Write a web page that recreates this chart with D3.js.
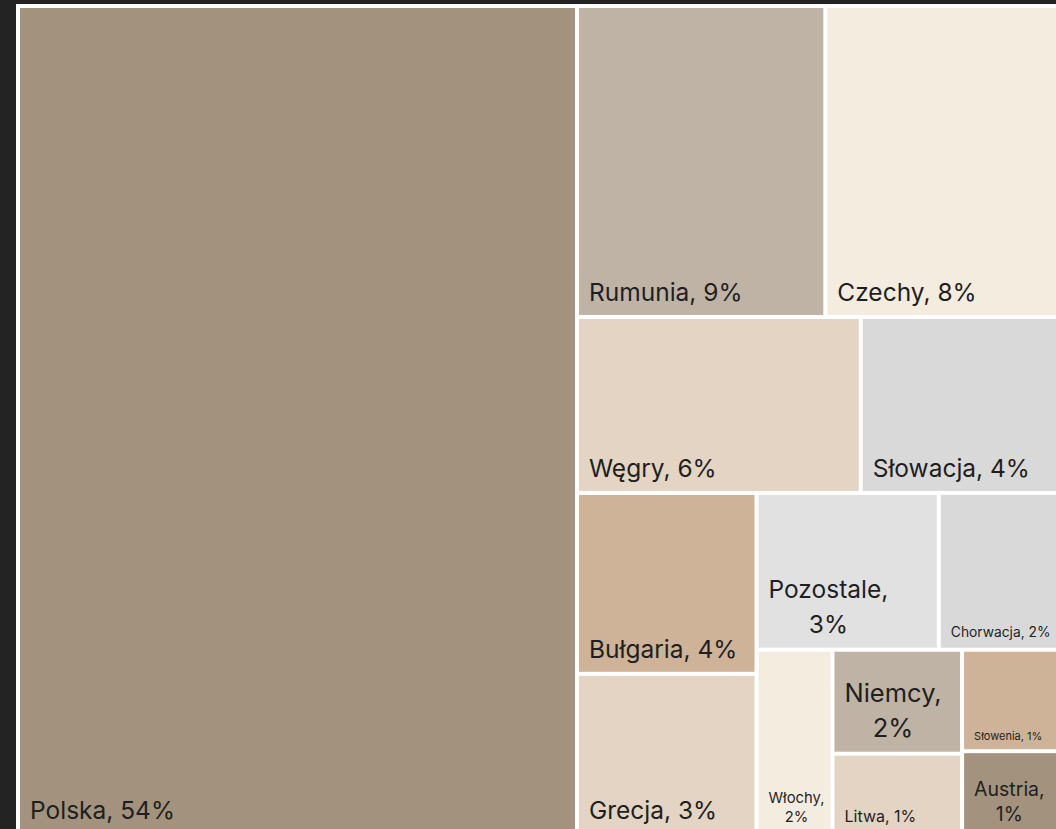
<!DOCTYPE html>
<html><head><meta charset="utf-8">
<script src="https://cdn.jsdelivr.net/npm/d3@7"></script>
<style>html,body{margin:0;padding:0;background:#232323;overflow:hidden} svg{display:block}</style>
</head><body><svg id="chart" width="1056" height="829"></svg>
<script>
// ---- data ----
const countries = ["Polska","Rumunia","Czechy","Węgry","Słowacja","Bułgaria","Grecja","Pozostale","Chorwacja","Włochy","Niemcy","Litwa","Słowenia","Austria"];
const shares    = [53.65, 8.94, 8.45, 5.78, 4.06, 3.76, 3.35, 3.31, 2.20, 1.63, 1.56, 1.22, 1.15, 0.95];
// nesting of the tiles (alternating columns / rows)
const groups = ["Polska", [["Rumunia","Czechy"],["Węgry","Słowacja"],[["Bułgaria","Grecja"],[["Pozostale","Chorwacja"],["Włochy",["Niemcy","Litwa"],["Słowenia","Austria"]]]]]];

// ---- styles ----
const palette = ["#a3937e","#bfb3a5","#f5ece0","#e3d4c4","#d9d9d9","#ceb399","#e3d4c4","#e1e1e1","#d9d9d9","#f5ece0","#bfb3a5","#e3d4c4","#ceb399","#a3937e"];
const labelStyle = {
  "Pozostale": {size: 24.5, wrap: true, lh: 35},
  "Niemcy":    {size: 25.5, wrap: true, lh: 35},
  "Austria":   {size: 19.5, wrap: true, lh: 25},
  "Włochy":    {size: 14.8, wrap: true, lh: 19},
  "Chorwacja": {size: 13.8},
  "Litwa":     {size: 16},
  "Słowenia":  {size: 11}
};
const defaultSize = 24.5;

const color = d3.scaleOrdinal().domain(countries).range(palette);
const valueOf = new Map(countries.map((c, i) => [c, shares[i]]));

function build(node) {
  if (typeof node === "string") return {name: node, value: valueOf.get(node)};
  return {children: node.map(build)};
}

const svg = d3.select("#chart");
const W = 1046, H = 833, X = 16, Y = 4;

svg.append("rect").attr("x", X).attr("y", Y).attr("width", W).attr("height", H).attr("fill", "#ffffff");

const root = d3.hierarchy(build(groups), d => d.children).sum(d => d.value || 0);

d3.treemap()
  .tile(d3.treemapSliceDice)
  .size([W, H])
  .paddingInner(4)
  .paddingTop(d => d.depth === 0 ? 4 : 0)
  .paddingRight(d => d.depth === 0 ? 4 : 0)
  .paddingBottom(d => d.depth === 0 ? 4 : 0)
  .paddingLeft(d => d.depth === 0 ? 4 : 0)(root);

const g = svg.append("g").attr("transform", `translate(${X},${Y})`);

const leaf = g.selectAll("g.leaf").data(root.leaves()).join("g").attr("class", "leaf");

leaf.append("rect")
  .attr("x", d => d.x0).attr("y", d => d.y0)
  .attr("width", d => d.x1 - d.x0).attr("height", d => d.y1 - d.y0)
  .attr("fill", d => color(d.data.name));

leaf.each(function(d) {
  const st = labelStyle[d.data.name] || {};
  const size = st.size || defaultSize;
  const lh = st.lh || size * 1.3;
  const label = `${d.data.name}, ${Math.round(d.data.value)}%`;
  const lines = st.wrap ? [d.data.name + ",", `${Math.round(d.data.value)}%`] : [label];
  const t = d3.select(this).append("text")
    .attr("font-family", "Inter, 'Noto Sans', sans-serif")
    .attr("font-size", size)
    .attr("fill", "#1f1f1f");
  const baseY = d.y1 - (5 + 0.38 * size);
  const x = d.x0 + 10;
  const spans = lines.map((ln, i) => t.append("tspan")
    .attr("x", x)
    .attr("y", baseY - (lines.length - 1 - i) * lh)
    .text(ln));
  if (lines.length > 1) {
    const widths = spans.map(s => s.node().getComputedTextLength());
    const maxW = d3.max(widths);
    spans.forEach((s, i) => s.attr("x", x + (maxW - widths[i]) / 2));
  }
});
</script>
</body></html>
